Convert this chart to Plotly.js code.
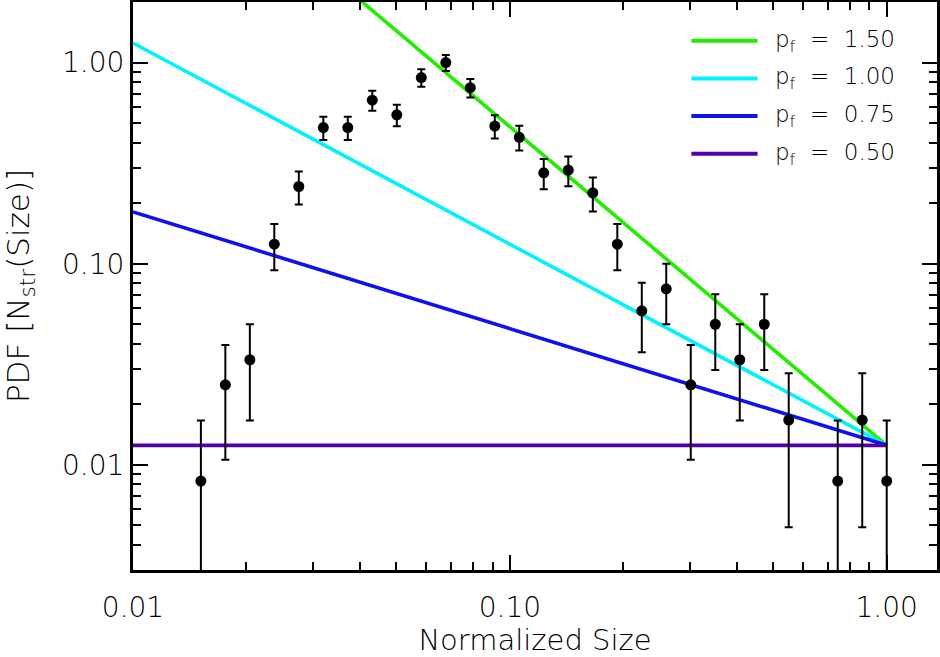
<!DOCTYPE html>
<html>
<head>
<meta charset="utf-8">
<script src="https://cdn.plot.ly/plotly-3.0.1.min.js"></script>
<style>
  html, body { margin: 0; padding: 0; background: #ffffff; }
  #chart { width: 940px; height: 657px; }
</style>
</head>
<body>
<div id="chart"></div>
<script>
// Normalized size bins and the PDF of structure counts with Poisson errors
const sizeBins = [0.01514, 0.01758, 0.02042, 0.02371, 0.02754, 0.03199, 0.03715,
  0.04315, 0.05012, 0.05821, 0.06761, 0.07852, 0.0912, 0.1059, 0.123, 0.1429,
  0.166, 0.1928, 0.2239, 0.26, 0.302, 0.3508, 0.4074, 0.4732, 0.5495,
  0.7413, 0.861, 1.0];
const pdfValues = [0.0083, 0.025, 0.0333, 0.125, 0.242, 0.475, 0.475,
  0.65, 0.55, 0.842, 1.0, 0.75, 0.483, 0.425, 0.283, 0.292,
  0.225, 0.125, 0.0583, 0.075, 0.025, 0.05, 0.0333, 0.05, 0.0167,
  0.0083, 0.0167, 0.0083];
const pdfErrors = [0.0083, 0.0144, 0.0167, 0.0323, 0.0449, 0.0629, 0.0629,
  0.0736, 0.0677, 0.0837, 0.0913, 0.0791, 0.0635, 0.0595, 0.0486, 0.0493,
  0.0433, 0.0323, 0.022, 0.025, 0.0144, 0.0204, 0.0167, 0.0204, 0.0118,
  0.0083, 0.0118, 0.0083];

// Model power laws, all anchored at size = 1
const fitX = [0.01, 1.0];
const fitLabels = ['1.50', '1.00', '0.75', '0.50'];
const fitY = [
  [18.4, 0.0125],
  [1.25, 0.0125],
  [0.181, 0.0125],
  [0.0125, 0.0125]
];
const fitColors = ['#22ee00', '#00f2ff', '#1010f0', '#5200a8'];

// Axis tick labels
const xTickVals = [0.01, 0.1, 1];
const xTickText = ['0.01', '0.10', '1.00'];
const yTickVals = [0.01, 0.1, 1];
const yTickText = ['0.01', '0.10', '1.00'];
const xMinor = [0.02, 0.03, 0.04, 0.05, 0.06, 0.07, 0.08, 0.09,
  0.2, 0.3, 0.4, 0.5, 0.6, 0.7, 0.8, 0.9];
const yMinor = [0.003, 0.004, 0.005, 0.006, 0.007, 0.008, 0.009,
  0.02, 0.03, 0.04, 0.05, 0.06, 0.07, 0.08, 0.09,
  0.2, 0.3, 0.4, 0.5, 0.6, 0.7, 0.8, 0.9];

const FONT = 'DejaVu Sans, Lato, sans-serif';

const traces = fitY.map((ys, i) => ({
  x: fitX, y: ys, type: 'scatter', mode: 'lines',
  line: { color: fitColors[i], width: 3.6 },
  name: 'p_f = ' + fitLabels[i], hoverinfo: 'skip'
}));

traces.push({
  x: sizeBins, y: pdfValues, type: 'scatter', mode: 'markers',
  marker: { color: '#000000', size: 11 },
  error_y: { type: 'data', array: pdfErrors, arrayminus: pdfErrors, visible: true,
             color: '#000000', thickness: 2, width: 4 },
  name: 'data'
});

// Legend drawn as line segments with labels in the upper right
const legendShapes = [];
const legendNotes = [];
fitLabels.forEach((lab, i) => {
  const yp = 0.9316 - i * 0.0662;
  legendShapes.push({ type: 'line', xref: 'paper', yref: 'paper',
    x0: 0.6945, x1: 0.7768, y0: yp, y1: yp,
    line: { color: fitColors[i], width: 4 } });
  legendNotes.push({ xref: 'paper', yref: 'paper', x: 0.7955, y: yp,
    xanchor: 'left', yanchor: 'middle', showarrow: false,
    text: 'p<sub>f</sub>\u00a0\u00a0=\u00a0\u00a0' + lab,
    font: { family: FONT, size: 23, color: '#000000', weight: 300 } });
});

const axisCommon = {
  type: 'log', showgrid: false, zeroline: false,
  showline: true, linecolor: '#000000', linewidth: 3, mirror: 'ticks',
  ticks: 'inside', ticklen: 15, tickwidth: 2, tickcolor: '#000000',
  tickfont: { family: FONT, size: 28, color: '#000000', weight: 300 },
  tickmode: 'array'
};

const layout = {
  width: 940, height: 657,
  margin: { l: 133, r: 3, t: 2, b: 87 },
  paper_bgcolor: '#ffffff', plot_bgcolor: '#ffffff',
  showlegend: false,
  xaxis: Object.assign({}, axisCommon, {
    range: [-2, 0.1334],
    tickvals: xTickVals, ticktext: xTickText,
    ticklabelstandoff: 10,
    minor: { tickmode: 'array', tickvals: xMinor, ticks: 'inside', ticklen: 8,
             tickwidth: 2, tickcolor: '#000000' },
    title: { text: 'Normalized Size', font: { family: FONT, size: 29, color: '#000000', weight: 300 }, standoff: 10 }
  }),
  yaxis: Object.assign({}, axisCommon, {
    range: [Math.log10(0.003), Math.log10(2)],
    tickvals: yTickVals, ticktext: yTickText,
    minor: { tickmode: 'array', tickvals: yMinor, ticks: 'inside', ticklen: 8,
             tickwidth: 2, tickcolor: '#000000' },
    title: { text: 'PDF [N<sub>str</sub>(Size)]', font: { family: FONT, size: 31, color: '#000000', weight: 300 }, standoff: 26 }
  }),
  shapes: legendShapes,
  annotations: legendNotes
};

Plotly.newPlot('chart', traces, layout, { staticPlot: true });
</script>
</body>
</html>
